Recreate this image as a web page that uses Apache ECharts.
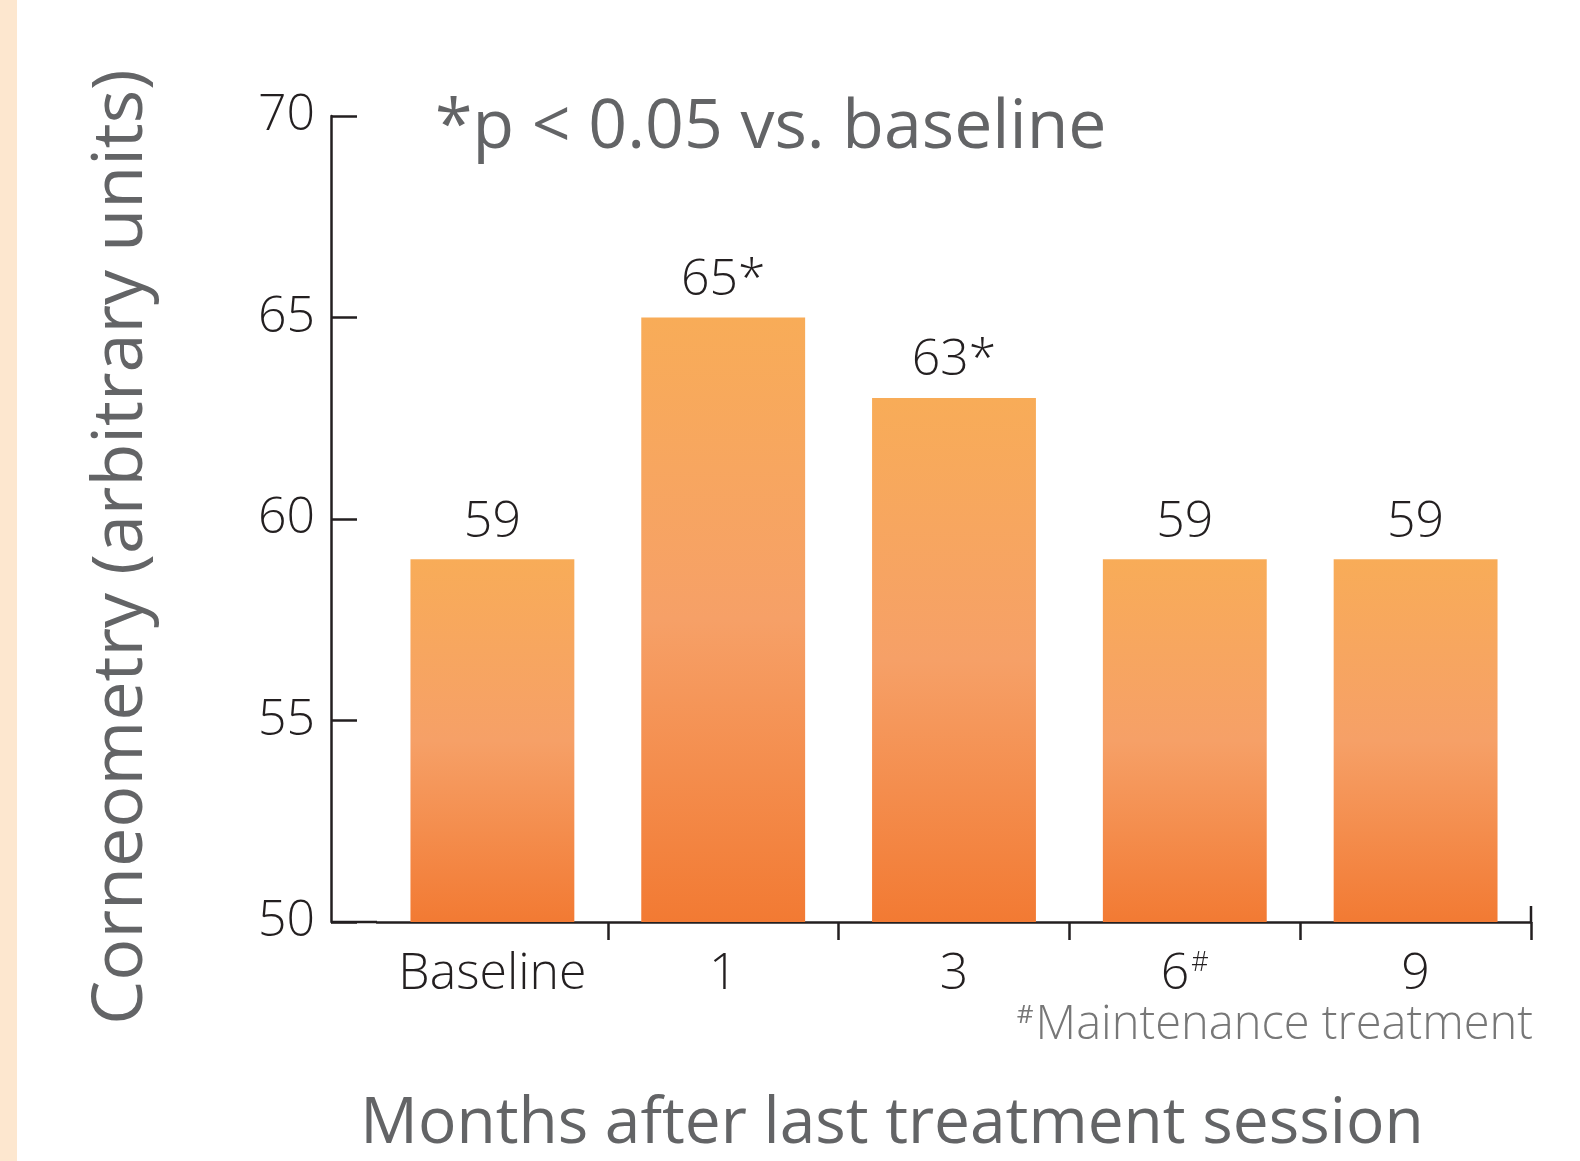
<!DOCTYPE html>
<html><head><meta charset="utf-8">
<script src="https://cdn.jsdelivr.net/npm/echarts@6/dist/echarts.min.js"></script>
<style>html,body{margin:0;padding:0;background:#fff;overflow:hidden;width:100%;height:100%;}#c{width:100vw;height:100vh;}</style>
</head><body><div id="c"></div>
<script>
const categories = ['Baseline', '1', '3', '6#', '9'];
const values = [59, 65, 63, 59, 59];
const valueLabels = ['59', '65*', '63*', '59', '59'];
const yTicks = { min: 50, max: 70, interval: 5 };
const yTitle = 'Corneometry (arbitrary units)';
const xTitle = 'Months after last treatment session';
const note = '*p < 0.05 vs. baseline';
const footnote = 'Maintenance treatment';

const FONT = "'Open Sans', sans-serif";
const el = document.getElementById('c');
const W = el.clientWidth || 1580, H = el.clientHeight || 1161;
const sx = W / 1580, sy = H / 1161, sf = Math.min(sx, sy);
const X = v => v * sx, Y = v => v * sy, F = v => v * sf;

const G = { left: X(377), right: X(49), top: Y(116), bottom: Y(239) };
const AXIS_X = X(331);
const BASE_Y = H - G.bottom;
const chart = echarts.init(el);

const barGrad = new echarts.graphic.LinearGradient(0, 0, 0, 1, [
  { offset: 0, color: '#F8AC58' },
  { offset: 0.5, color: '#F6A067' },
  { offset: 1, color: '#F27A33' }
]);
const INK = '#231F20';
const GRAY = '#636466';

chart.setOption({
  backgroundColor: '#ffffff',
  animation: false,
  grid: { left: G.left, right: G.right, top: G.top, bottom: G.bottom },
  xAxis: {
    type: 'category',
    data: categories,
    axisLine: { show: true, lineStyle: { color: INK, width: 2.5 } },
    axisTick: { show: true, length: F(18), lineStyle: { color: INK, width: 2.5 },
      interval: function (i) { return i !== 0; } },
    axisLabel: {
      interval: 0,
      hideOverlap: false,
      margin: F(28),
      fontFamily: FONT, fontWeight: 300, fontSize: F(50), color: INK,
      formatter: function (v) { return v.endsWith('#') ? v.slice(0, -1) + '{s|#}' : v; },
      rich: { s: { fontFamily: FONT, fontWeight: 300, fontSize: F(27), color: INK, verticalAlign: 'top', padding: [0, 0, F(22), F(2)] } }
    }
  },
  yAxis: {
    type: 'value',
    min: yTicks.min, max: yTicks.max, interval: yTicks.interval,
    offset: G.left - AXIS_X,
    splitLine: { show: false },
    axisLine: { show: true, lineStyle: { color: INK, width: 2.5 } },
    axisTick: { show: true, inside: true, length: F(26), lineStyle: { color: INK, width: 2.5 } },
    axisLabel: { margin: F(16), fontFamily: FONT, fontWeight: 300, fontSize: F(50), color: INK }
  },
  series: [{
    type: 'bar',
    data: values,
    barWidth: '71%',
    itemStyle: { color: barGrad },
    label: {
      show: true, position: 'top', distance: F(12),
      fontFamily: FONT, fontWeight: 300, fontSize: F(50), color: INK,
      formatter: function (p) { return valueLabels[p.dataIndex]; }
    }
  }],
  graphic: [
    { type: 'rect', left: 0, top: 0, shape: { width: X(17), height: H }, style: { fill: '#FDE7CF' }, silent: true },
    { type: 'line', shape: { x1: AXIS_X, y1: BASE_Y, x2: G.left, y2: BASE_Y },
      style: { stroke: INK, lineWidth: 2.5 }, silent: true },
    { type: 'line', shape: { x1: W - G.right, y1: BASE_Y - F(16), x2: W - G.right, y2: BASE_Y },
      style: { stroke: INK, lineWidth: 2.5 }, silent: true },
    { type: 'text', x: X(122), y: Y(547), rotation: Math.PI / 2,
      style: { text: yTitle, fontFamily: FONT, fontWeight: 400, fontSize: F(70), fill: GRAY, align: 'center', verticalAlign: 'middle' } },
    { type: 'text', x: X(892), y: Y(1125),
      style: { text: xTitle, fontFamily: FONT, fontWeight: 400, fontSize: F(64), fill: GRAY, align: 'center', verticalAlign: 'middle' } },
    { type: 'text', x: X(435), y: Y(129),
      style: { text: note, fontFamily: FONT, fontWeight: 400, fontSize: F(68), fill: GRAY, align: 'left', verticalAlign: 'middle' } },
    { type: 'text', x: X(1533), y: Y(1026),
      style: { text: '{s|#}{m|' + footnote + '}', align: 'right', verticalAlign: 'middle',
        rich: { s: { fontFamily: FONT, fontSize: F(26), fill: '#777', verticalAlign: 'top', padding: [0, F(2), F(18), 0] },
                m: { fontFamily: FONT, fontWeight: 300, fontSize: F(47), fill: '#777' } } } }
  ]
});
</script></body></html>
